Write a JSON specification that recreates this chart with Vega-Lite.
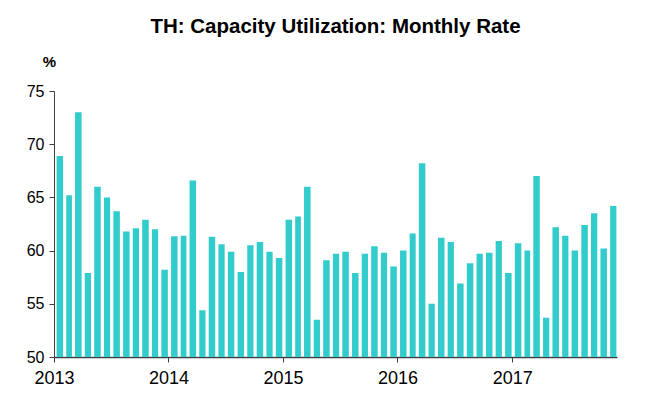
{
  "$schema": "https://vega.github.io/schema/vega-lite/v6.json",
  "width": 563,
  "height": 266,
  "autosize": {"type": "none"},
  "padding": {"left": 54, "top": 91, "right": 28, "bottom": 44},
  "background": "white",
  "title": {
    "text": "TH: Capacity Utilization: Monthly Rate",
    "font": "Liberation Sans",
    "fontSize": 20.5,
    "fontWeight": "bold",
    "color": "#000000",
    "anchor": "middle",
    "offset": 17
  },
  "config": {"view": {"stroke": null}},
  "data": {
    "values": [
      {"date": "2013-01-01", "value": 68.9},
      {"date": "2013-02-01", "value": 65.2},
      {"date": "2013-03-01", "value": 73.0},
      {"date": "2013-04-01", "value": 57.9},
      {"date": "2013-05-01", "value": 66.0},
      {"date": "2013-06-01", "value": 65.0},
      {"date": "2013-07-01", "value": 63.7},
      {"date": "2013-08-01", "value": 61.8},
      {"date": "2013-09-01", "value": 62.1},
      {"date": "2013-10-01", "value": 62.9},
      {"date": "2013-11-01", "value": 62.0},
      {"date": "2013-12-01", "value": 58.2},
      {"date": "2014-01-01", "value": 61.35},
      {"date": "2014-02-01", "value": 61.4},
      {"date": "2014-03-01", "value": 66.6},
      {"date": "2014-04-01", "value": 54.4},
      {"date": "2014-05-01", "value": 61.3},
      {"date": "2014-06-01", "value": 60.6},
      {"date": "2014-07-01", "value": 59.9},
      {"date": "2014-08-01", "value": 58.0},
      {"date": "2014-09-01", "value": 60.5},
      {"date": "2014-10-01", "value": 60.8},
      {"date": "2014-11-01", "value": 59.9},
      {"date": "2014-12-01", "value": 59.3},
      {"date": "2015-01-01", "value": 62.9},
      {"date": "2015-02-01", "value": 63.2},
      {"date": "2015-03-01", "value": 66.0},
      {"date": "2015-04-01", "value": 53.5},
      {"date": "2015-05-01", "value": 59.1},
      {"date": "2015-06-01", "value": 59.7},
      {"date": "2015-07-01", "value": 59.9},
      {"date": "2015-08-01", "value": 57.9},
      {"date": "2015-09-01", "value": 59.7},
      {"date": "2015-10-01", "value": 60.4},
      {"date": "2015-11-01", "value": 59.8},
      {"date": "2015-12-01", "value": 58.5},
      {"date": "2016-01-01", "value": 60.0},
      {"date": "2016-02-01", "value": 61.6},
      {"date": "2016-03-01", "value": 68.2},
      {"date": "2016-04-01", "value": 55.0},
      {"date": "2016-05-01", "value": 61.2},
      {"date": "2016-06-01", "value": 60.8},
      {"date": "2016-07-01", "value": 56.9},
      {"date": "2016-08-01", "value": 58.8},
      {"date": "2016-09-01", "value": 59.7},
      {"date": "2016-10-01", "value": 59.8},
      {"date": "2016-11-01", "value": 60.9},
      {"date": "2016-12-01", "value": 57.9},
      {"date": "2017-01-01", "value": 60.7},
      {"date": "2017-02-01", "value": 60.0},
      {"date": "2017-03-01", "value": 67.0},
      {"date": "2017-04-01", "value": 53.7},
      {"date": "2017-05-01", "value": 62.2},
      {"date": "2017-06-01", "value": 61.4},
      {"date": "2017-07-01", "value": 60.0},
      {"date": "2017-08-01", "value": 62.4},
      {"date": "2017-09-01", "value": 63.5},
      {"date": "2017-10-01", "value": 60.2},
      {"date": "2017-11-01", "value": 64.2}
    ]
  },
  "mark": {"type": "bar", "color": "#33CCCC", "width": {"band": 0.77}, "clip": true},
  "encoding": {
    "x": {
      "field": "date",
      "timeUnit": "yearmonth",
      "type": "temporal",
      "bandPosition": 0.55,
      "scale": {"domain": ["2013-01-01", "2017-12-01"], "nice": false},
      "axis": {
        "title": null,
        "format": "%Y",
        "tickCount": {"interval": "year", "step": 1},
        "grid": false,
        "domainColor": "#404040",
        "domainWidth": 1.5,
        "tickColor": "#404040",
        "tickSize": 5,
        "labelFont": "Liberation Sans",
        "labelFontSize": 18,
        "labelColor": "#000000",
        "labelPadding": 7,
        "labelFlush": false,
        "labelOverlap": false
      }
    },
    "y": {
      "field": "value",
      "type": "quantitative",
      "scale": {"domain": [50, 75], "nice": false, "zero": false},
      "axis": {
        "title": "%",
        "titleAngle": 0,
        "titleX": -5,
        "titleY": -25,
        "titleAlign": "center",
        "titleBaseline": "alphabetic",
        "titleFont": "Liberation Sans",
        "titleFontSize": 15,
        "titleFontWeight": "bold",
        "titleColor": "#000000",
        "values": [50, 55, 60, 65, 70, 75],
        "grid": false,
        "domainColor": "#404040",
        "tickColor": "#404040",
        "tickSize": 5,
        "labelFont": "Liberation Sans",
        "labelFontSize": 16,
        "labelColor": "#000000",
        "labelPadding": 5
      }
    }
  }
}
